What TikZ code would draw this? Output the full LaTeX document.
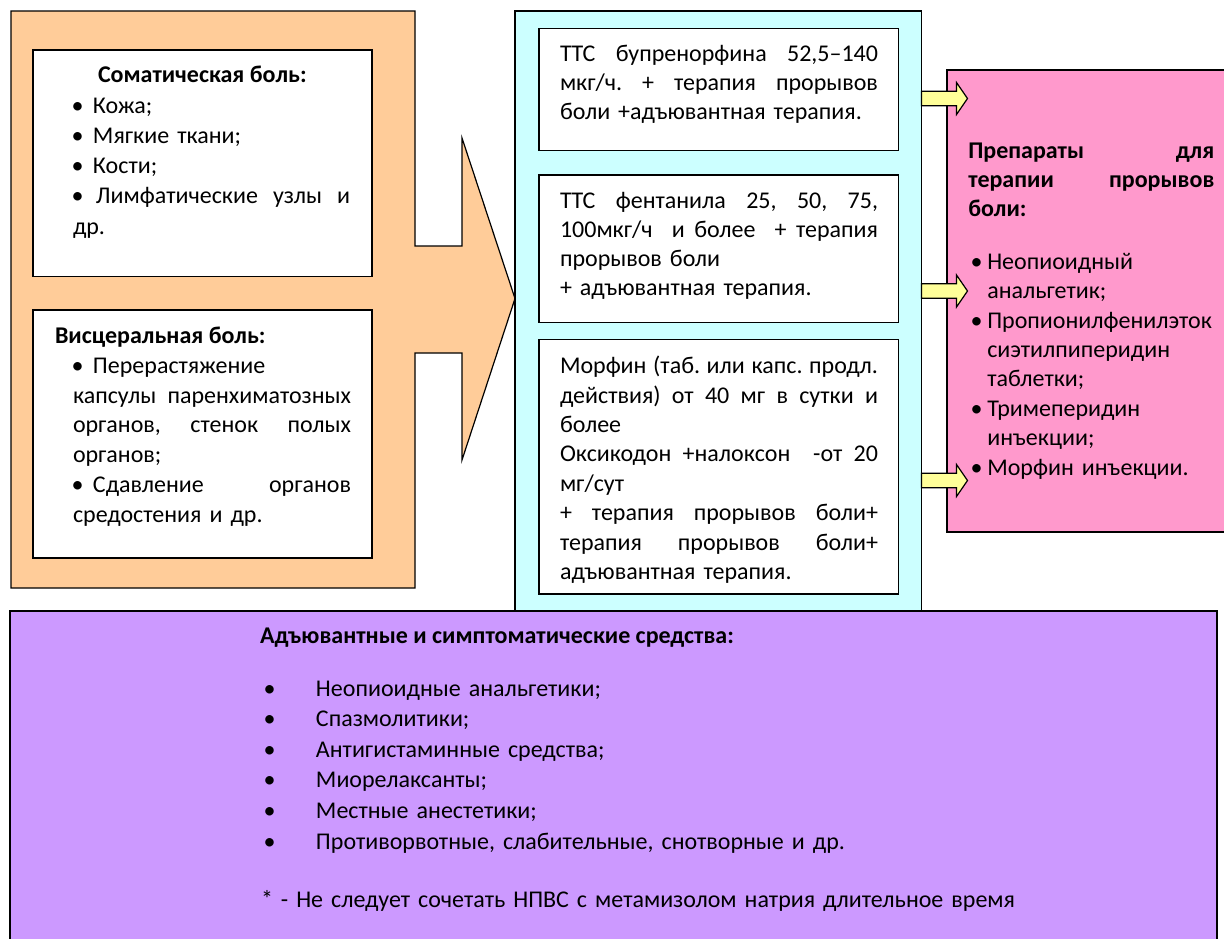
\documentclass[tikz,border=0pt]{standalone}
\usepackage{fontspec}
\setmainfont{Carlito}
\definecolor{orangefill}{HTML}{FFCC99}
\definecolor{cyanfill}{HTML}{CCFFFF}
\definecolor{pinkfill}{HTML}{FF99CC}
\definecolor{purplefill}{HTML}{CC99FF}
\definecolor{yellowfill}{HTML}{FFFF99}
\frenchspacing
\newcommand\jl[2]{\leavevmode\hbox to #1{\spaceskip=\fontdimen2\font plus 1fil minus 2pt\relax #2}}
\newcommand\bl{\makebox[12pt][l]{\kern-1.5pt•}}
\newcommand\pbl{\makebox[15.3pt][l]{\kern-1.5pt•}}
\newcommand\vbl{\makebox[51pt][l]{\kern-1.5pt•}}
\begin{document}
\begin{tikzpicture}[x=1pt,y=-1pt,
  frame/.style={draw=black, line width=1.2pt},
  boxnode/.style={frame, anchor=north west, inner sep=0pt, outer sep=0pt, minimum width=#1},
  txt/.style={anchor=base west, inner sep=0pt, outer sep=0pt, text width=#1, align=left, font=\fontsize{24}{29}\selectfont},
  ttl/.style={anchor=base west, inner sep=0pt, outer sep=0pt, font=\fontsize{24}{29}\selectfont\bfseries},
  yarrow/.style={frame, fill=yellowfill, line join=miter}
]
\useasboundingbox (0,0) rectangle (1224,938);
\clip (0,0) rectangle (1224,938);

% orange block arrow
\draw[frame, fill=orangefill, line join=miter] (11,11) -- (415,11) -- (415,246) -- (462,246) -- (462,138) -- (515,298.5) -- (462,460) -- (462,353) -- (415,353) -- (415,588) -- (11,588) -- cycle;

% left white boxes
\node[boxnode=339pt, minimum height=226.7pt, fill=white] (soma) at (33,50) {};
\node[boxnode=339pt, minimum height=248pt, fill=white] (visc) at (33,310) {};

\node[ttl] (somat) at (98,82) {Соматическая боль:};
\node[txt=277pt, font=\fontsize{24}{30.3}\selectfont] (somal) at (73,113) {\bl\ Кожа;\\ \bl\ Мягкие ткани;\\ \bl\ Кости;\\ \jl{277pt}{\bl\hspace{11pt}Лимфатические узлы и}\\ др.};

\node[ttl] (visct) at (55,343) {Висцеральная боль:};
\node[txt=278pt, font=\fontsize{24}{29.7}\selectfont] (viscl) at (73,373.5) {\bl\ Перерастяжение\\ \jl{278pt}{капсулы паренхиматозных}\\ \jl{278pt}{органов, стенок полых}\\ органов;\\ \jl{278pt}{\bl\hspace{8pt}Сдавление органов}\\ средостения и др.};

% cyan column
\node[boxnode=406.5pt, minimum height=600pt, fill=cyanfill] (cyan) at (515,11) {};
\node[boxnode=359.5pt, minimum height=122.2pt, fill=white] (boxa) at (539,28.3) {};
\node[boxnode=359.5pt, minimum height=147.4pt, fill=white] (boxb) at (539,175) {};
\node[boxnode=359.5pt, minimum height=254.2pt, fill=white] (boxc) at (539,339.8) {};

\node[txt=318pt] (ta) at (560,61) {\jl{318pt}{ТТС бупренорфина 52,5–140}\\ \jl{318pt}{мкг/ч. + терапия прорывов}\\ боли +адъювантная терапия.};
\node[txt=318pt] (tb) at (560,208.5) {\jl{318pt}{ТТС фентанила 25, 50, 75,}\\ \jl{318pt}{100мкг/ч\ \ и более\ \ + терапия}\\ прорывов боли\\ + адъювантная терапия.};
\node[txt=318pt, font=\fontsize{24}{29.37}\selectfont] (tc) at (560,373.8) {\jl{318pt}{Морфин (таб. или капс. продл.}\\ \jl{318pt}{действия) от 40 мг в сутки и}\\ более\\ \jl{318pt}{Оксикодон +налоксон\ \ -от 20}\\ мг/сут\\ \jl{318pt}{+ терапия прорывов боли+}\\ \jl{318pt}{терапия прорывов боли+}\\ адъювантная терапия.};

% pink box
\node[boxnode=290pt, minimum height=462pt, fill=pinkfill] (pink) at (947,70) {};
\node[txt=246pt, font=\fontsize{24}{29.2}\selectfont\bfseries] (pinkt) at (968.3,158.3) {\jl{246pt}{Препараты для}\\ \jl{246pt}{терапии прорывов}\\ боли:};
\node[txt=250pt] (pinkl) at (972,269.3) {\pbl Неопиоидный\\ \hspace*{15.3pt}анальгетик;\\[1pt] \pbl Пропионилфенилэток\\ \hspace*{15.3pt}сиэтилпиперидин\\ \hspace*{15.3pt}таблетки;\\[1pt] \pbl Тримеперидин\\ \hspace*{15.3pt}инъекции;\\[1pt] \pbl Морфин инъекции.};

% yellow arrows from cyan column to pink box
\foreach \yy in {98.5, 291, 480.5} {
  \draw[yarrow] (cyan.east |- 0,\yy-7.2) -- (956.5,\yy-7.2) -- (956.5,\yy-16) -- (967.5,\yy) -- (956.5,\yy+16) -- (956.5,\yy+7.2) -- (cyan.east |- 0,\yy+7.2) -- cycle;
}

% purple box
\node[boxnode=1207pt, minimum height=340pt, fill=purplefill] (purple) at (10,611) {};
\node[ttl] (purt) at (260,643.3) {Адъювантные и симптоматические средства:};
\node[txt=800pt, font=\fontsize{24}{30.65}\selectfont] (purl) at (265,696) {\vbl Неопиоидные анальгетики;\\ \vbl Спазмолитики;\\ \vbl Антигистаминные средства;\\ \vbl Миорелаксанты;\\ \vbl Местные анестетики;\\ \vbl Противорвотные, слабительные, снотворные и др.};
\node[txt=900pt] (purf) at (261,907.3) {* - Не следует сочетать НПВС с метамизолом натрия длительное время};
\end{tikzpicture}
\end{document}
